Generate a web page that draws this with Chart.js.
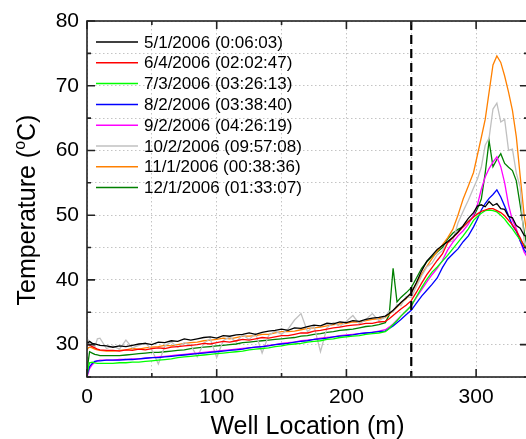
<!DOCTYPE html>
<html><head><meta charset="utf-8">
<script src="https://cdn.jsdelivr.net/npm/chart.js@4"></script>
<style>html,body{margin:0;padding:0;overflow:hidden;background:#fff;width:526px;height:439px}canvas{display:block}</style>
</head><body>
<canvas id="c" width="560" height="439" style="width:560px;height:439px"></canvas>
<script>
// Well location (m)
const wellLocation = [0,1,2,4,6,8,
10,15,20,25,30,35,40,45,50,55,60,65,70,75,80,85,90,95,100,105,110,115,120,125,130,135,140,145,150,155,160,165,170,175,180,185,190,195,200,205,210,215,220,225,230,
233,236,239,242,246,250,254,258,262,266,270,274,278,282,286,290,294,298,301,304,307,310,313,316,319,322,325,328,331,334,337,340];

const seriesLabels = ['5/1/2006 (0:06:03)','6/4/2006 (02:02:47)','7/3/2006 (03:26:13)','8/2/2006 (03:38:40)','9/2/2006 (04:26:19)','10/2/2006 (09:57:08)','11/1/2006 (00:38:36)','12/1/2006 (01:33:07)'];
const seriesColors = ['#000000','#ff0000','#00ff00','#0000ff','#ff00ff','#c0c0c0','#ff8000','#008000'];

const tBlack = [30.4,30.3,30.5,30.2,30.1,30.0,
29.9,29.8,29.6,29.8,29.7,29.9,30.1,30.2,30.0,30.4,30.3,30.6,30.5,30.9,30.7,30.9,31.1,31.2,31.0,31.4,31.3,31.5,31.6,31.8,31.6,31.9,32.1,32.2,32.4,32.2,32.6,32.5,32.8,33.0,32.9,33.3,33.2,33.5,33.4,33.7,33.6,33.9,34.1,34.2,34.4,
34.8,35.3,35.9,36.5,37.2,38.0,39.6,41.4,42.9,43.8,44.7,45.3,45.9,46.6,47.4,48.4,49.5,50.4,
51.4,51.6,51.3,52.1,51.5,51.8,51.0,50.9,49.8,49.6,48.4,48.0,46.9,46.6];

const tRed = [29.8,30.0,29.9,29.7,29.5,29.3,
29.2,29.1,29.1,29.0,29.2,29.1,29.3,29.2,29.4,29.5,29.4,29.6,29.7,29.8,29.9,30.0,30.2,30.1,30.3,30.5,30.4,30.6,30.8,30.7,30.9,31.1,31.0,31.2,31.4,31.4,31.6,31.8,31.8,32.1,32.2,32.4,32.6,32.7,32.9,33.0,33.1,33.3,33.3,33.5,33.6,
34.0,34.5,35.0,35.5,36.1,36.8,38.1,39.5,40.8,41.9,43.0,44.0,45.7,46.5,47.3,48.2,49.0,49.7,
50.2,50.6,50.8,51.0,51.0,50.7,50.4,49.9,49.2,48.5,47.6,46.5,45.2,44.6];

const tGreen = [25.0,26.5,27.2,27.3,27.2,27.1,
27.1,27.1,27.1,27.2,27.2,27.3,27.3,27.4,27.5,27.6,27.7,27.8,28.0,28.1,28.2,28.3,28.4,28.5,28.6,28.7,28.8,28.9,29.0,29.2,29.3,29.4,29.5,29.7,29.8,30.0,30.1,30.2,30.4,30.5,30.6,30.8,30.9,31.1,31.2,31.3,31.4,31.6,31.7,31.8,32.0,
32.5,33.1,33.7,34.4,35.2,36.0,37.4,38.8,40.1,41.2,42.0,42.9,43.8,44.8,45.8,46.8,47.9,49.2,
49.8,50.3,50.7,50.8,50.7,50.5,50.0,49.4,48.6,47.9,47.0,46.2,45.4,44.8];

const tBlue = [25.2,26.0,26.6,27.1,27.4,27.5,
27.5,27.6,27.6,27.6,27.7,27.7,27.8,27.9,28.0,28.0,28.1,28.2,28.3,28.4,28.5,28.6,28.7,28.8,28.9,29.0,29.1,29.2,29.3,29.5,29.6,29.7,29.8,30.0,30.1,30.2,30.4,30.5,30.6,30.8,30.9,31.0,31.2,31.3,31.4,31.5,31.7,31.8,31.9,32.0,32.1,
32.5,32.9,33.4,33.9,34.6,35.3,36.4,37.5,38.4,39.3,40.3,41.9,43.2,44.0,44.8,45.9,46.8,48.2,
49.4,50.8,51.8,52.6,53.2,53.9,52.8,51.4,49.9,48.4,47.5,46.0,44.7,43.8];

const tMagenta = [25.0,25.6,26.3,26.9,27.3,27.5,
27.6,27.6,27.6,27.7,27.7,27.8,27.8,27.9,28.0,28.1,28.2,28.3,28.4,28.5,28.6,28.7,28.8,28.9,29.0,29.1,29.2,29.3,29.4,29.5,29.6,29.7,29.9,30.0,30.2,30.3,30.4,30.6,30.7,30.8,31.0,31.1,31.2,31.4,31.5,31.6,31.7,31.8,31.9,32.1,32.3,
32.7,33.2,33.8,34.4,35.2,36.0,37.3,38.5,39.7,40.8,41.8,43.0,44.6,45.8,46.8,47.6,48.6,50.0,
51.6,54.0,55.9,57.2,58.2,59.0,57.5,55.0,51.6,49.2,47.9,46.0,44.3,43.3];

const tGray = [30.0,30.6,29.8,30.2,29.6,30.9,
31.0,29.4,29.8,29.3,30.7,29.5,29.9,30.3,29.2,27.0,29.8,30.4,29.6,30.3,29.9,28.1,30.2,30.9,28.0,30.6,31.2,30.4,31.5,30.8,31.7,28.7,31.4,32.1,31.6,32.4,33.8,34.8,32.0,32.9,28.9,32.6,33.4,32.8,33.6,34.5,33.2,33.9,34.8,33.7,34.3,
35.2,35.0,36.2,36.0,37.4,37.3,39.0,40.6,42.0,42.6,43.9,44.5,45.8,46.0,48.8,50.6,52.3,54.2,
55.6,57.4,60.8,61.9,66.4,67.3,64.4,64.8,60.0,60.2,56.5,54.3,46.0,43.5];

const tOrange = [29.2,29.5,29.6,29.5,29.3,29.2,
29.1,29.0,29.0,29.1,29.2,29.4,29.3,29.5,29.6,29.7,29.9,29.8,30.0,30.2,30.3,30.4,30.6,30.7,30.8,31.0,30.9,31.1,31.3,31.3,31.4,31.6,31.6,31.8,32.0,32.0,32.1,32.3,32.5,32.6,32.7,32.9,33.1,33.2,33.3,33.5,33.5,33.7,33.9,34.0,34.2,
34.7,35.2,35.8,36.4,37.1,38.0,39.4,40.9,42.1,43.3,44.4,45.4,46.5,47.8,50.0,52.5,54.5,56.6,
59.3,62.0,64.8,69.0,73.2,74.6,73.6,71.5,69.0,66.2,62.1,56.0,50.0,46.0];

const tDarkGreen = [25.0,27.5,28.9,28.7,28.5,28.4,
28.3,28.3,28.3,28.3,28.4,28.5,28.6,28.7,28.8,28.8,28.9,29.0,29.1,29.2,29.4,29.5,29.6,29.7,29.8,29.9,30.0,30.1,30.3,30.4,30.5,30.6,30.7,30.8,30.9,31.0,31.1,31.3,31.4,31.6,31.7,31.9,32.0,32.2,32.3,32.4,32.6,32.8,32.9,33.1,33.4,
34.6,41.8,36.6,37.3,38.0,38.8,40.3,41.8,42.8,43.6,44.3,45.0,46.3,47.2,47.8,48.2,49.0,49.8,
51.0,52.5,56.5,61.5,57.5,58.6,59.5,58.0,57.4,56.9,55.3,51.5,47.5,44.5];

const seriesValues = [tBlack,tRed,tGreen,tBlue,tMagenta,tGray,tOrange,tDarkGreen];

const xTickValues = [0,50,100,150,200,250,300];
const yTickValues = [25,30,35,40,45,50,55,60,65,70,75,80];
const dividerX = 250;

const FONT = "'Liberation Sans', Arial, sans-serif";

const datasets = seriesValues.map((vals, i) => ({
  label: seriesLabels[i],
  data: wellLocation.map((x, j) => ({x: x, y: vals[j]})),
  borderColor: seriesColors[i],
  backgroundColor: seriesColors[i],
  borderWidth: 1.3,
  pointRadius: 0,
  tension: 0,
  fill: false
}));

const framePlugin = {
  id: 'frame',
  afterDatasetsDraw(chart) {
    const {ctx, chartArea: {left, right, top, bottom}, scales: {x, y}} = chart;
    ctx.save();
    const xd = x.getPixelForValue(dividerX);
    ctx.strokeStyle = '#000';
    ctx.lineWidth = 2.2;
    ctx.setLineDash([9, 5]);
    ctx.beginPath(); ctx.moveTo(xd, top); ctx.lineTo(xd, bottom); ctx.stroke();
    ctx.setLineDash([]);
    ctx.strokeStyle = '#222';
    ctx.lineWidth = 1.6;
    ctx.strokeRect(left, top, right - left, bottom - top);
    xTickValues.forEach(v => {
      const px = x.getPixelForValue(v);
      const L = v % 100 === 0 ? 8 : 4;
      ctx.beginPath();
      ctx.moveTo(px, bottom); ctx.lineTo(px, bottom - L);
      ctx.moveTo(px, top); ctx.lineTo(px, top + L);
      ctx.stroke();
    });
    yTickValues.forEach(v => {
      const py = y.getPixelForValue(v);
      const L = v % 10 === 0 ? 8 : 4;
      ctx.beginPath();
      ctx.moveTo(left, py); ctx.lineTo(left + L, py);
      ctx.moveTo(right, py); ctx.lineTo(right - L, py);
      ctx.stroke();
    });
    ctx.font = '17px ' + FONT;
    ctx.textBaseline = 'middle';
    ctx.textAlign = 'left';
    chart.data.datasets.forEach((ds, i) => {
      const ly = top + 21 + i * 20.8;
      ctx.strokeStyle = ds.borderColor;
      ctx.lineWidth = 1.5;
      ctx.beginPath(); ctx.moveTo(left + 9, ly); ctx.lineTo(left + 51, ly); ctx.stroke();
      ctx.fillStyle = '#000';
      ctx.fillText(ds.label, left + 57, ly + 1);
    });
    ctx.save();
    ctx.translate(35, 210);
    ctx.rotate(-Math.PI / 2);
    ctx.fillStyle = '#000';
    ctx.textBaseline = 'alphabetic';
    const big = '25px ' + FONT, small = '16px ' + FONT;
    ctx.font = big; const w1 = ctx.measureText('Temperature (').width;
    const w3 = ctx.measureText('C)').width;
    ctx.font = small; const w2 = ctx.measureText('o').width;
    let sx = -(w1 + w2 + w3) / 2;
    ctx.font = big; ctx.fillText('Temperature (', sx, 0); sx += w1;
    ctx.font = small; ctx.fillText('o', sx, -10); sx += w2;
    ctx.font = big; ctx.fillText('C)', sx, 0);
    ctx.restore();
    ctx.restore();
  }
};

new Chart(document.getElementById('c'), {
  type: 'line',
  data: {datasets},
  options: {
    responsive: false,
    animation: false,
    devicePixelRatio: 1,
    layout: {padding: {top: 21, right: 32, left: 0, bottom: 0}},
    plugins: {legend: {display: false}, tooltip: {enabled: false}},
    scales: {
      x: {
        type: 'linear', min: 0, max: 340,
        afterFit(s) { s.height = 62; },
        afterBuildTicks(s) { s.ticks = xTickValues.map(v => ({value: v})); },
        ticks: {
          callback: v => (v % 100 === 0 ? String(v) : ''),
          font: {family: FONT, size: 21}, color: '#000', padding: 8,
          maxRotation: 0, autoSkip: false
        },
        grid: {color: '#c4c4c4', lineWidth: 1, drawTicks: false},
        border: {display: false, dash: [1.5, 2.5]},
        title: {display: true, text: 'Well Location (m)', color: '#000',
          font: {family: FONT, size: 25, lineHeight: 0.96}, padding: 0}
      },
      y: {
        type: 'linear', min: 25, max: 80,
        afterFit(s) { s.width = 87; },
        afterBuildTicks(s) { s.ticks = yTickValues.map(v => ({value: v})); },
        ticks: {
          callback: v => (v % 10 === 0 ? String(v) : ''),
          font: {family: FONT, size: 21}, color: '#000', padding: 8, autoSkip: false
        },
        grid: {color: '#c4c4c4', lineWidth: 1, drawTicks: false},
        border: {display: false, dash: [1.5, 2.5]}
      }
    }
  },
  plugins: [framePlugin]
});
</script>
</body></html>
